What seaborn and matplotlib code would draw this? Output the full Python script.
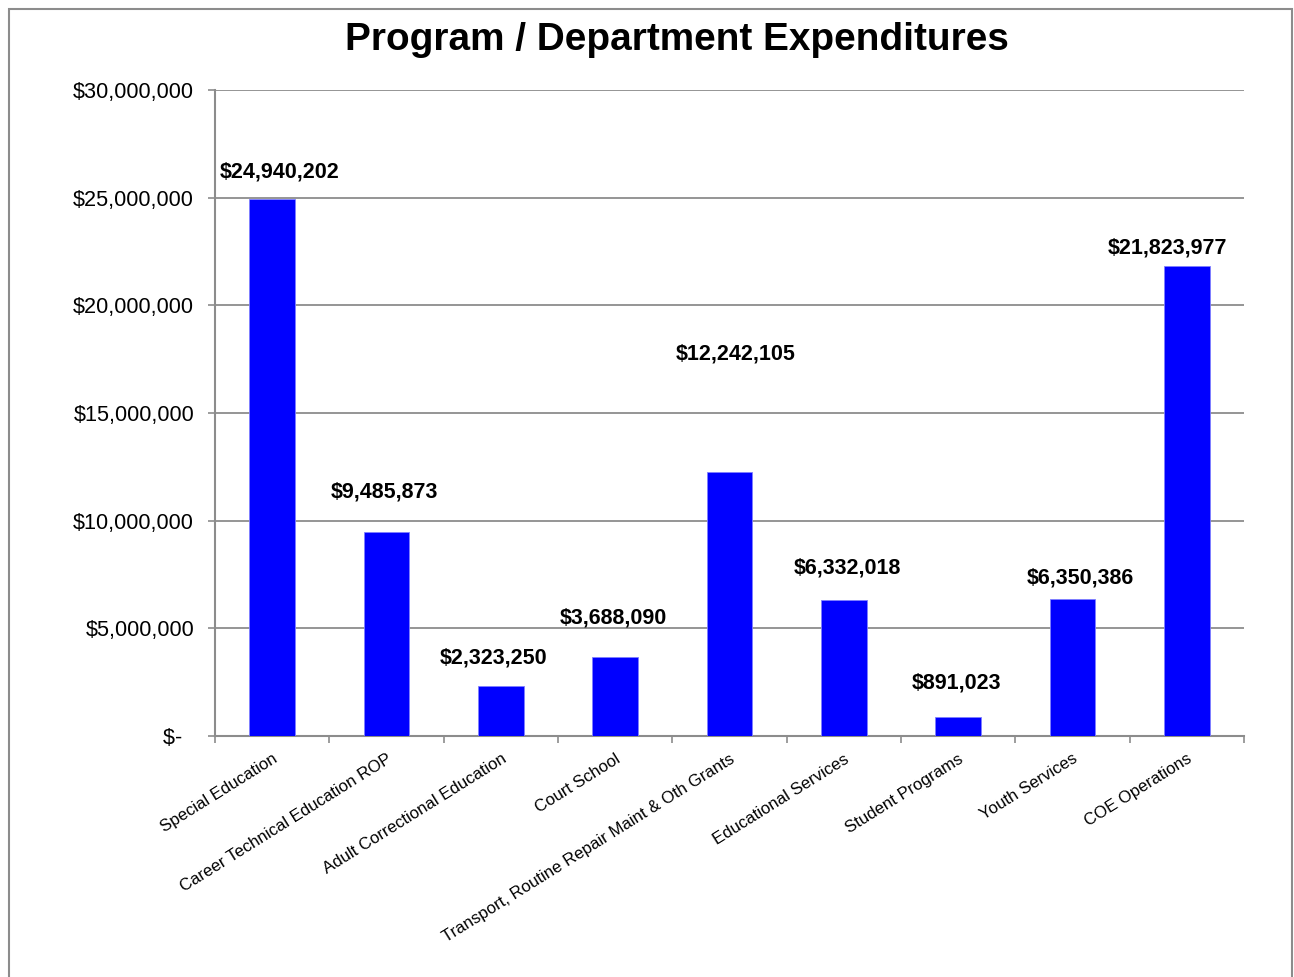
import matplotlib
matplotlib.use("Agg")
import matplotlib.pyplot as plt
from matplotlib.patches import Rectangle
from matplotlib.ticker import FuncFormatter, FixedLocator
import seaborn as sns
import pandas as pd

categories = [
    "Special Education",
    "Career Technical Education ROP",
    "Adult Correctional Education",
    "Court School",
    "Transport, Routine Repair Maint & Oth Grants",
    "Educational Services",
    "Student Programs",
    "Youth Services",
    "COE Operations",
]
values = [24940202, 9485873, 2323250, 3688090, 12242105, 6332018, 891023, 6350386, 21823977]
title = "Program / Department Expenditures"
yticks = [0, 5000000, 10000000, 15000000, 20000000, 25000000, 30000000]

# label placement offsets (pixels) relative to bar top, mimicking the original layout
label_dy = [27, 40, 28, 39, 118, 32, 34, 21, 18]
label_dx = [7, -2, -7, -2, 6, 4, -2, 8, -19]

df = pd.DataFrame({"category": categories, "value": values})

sns.set_theme(style="white")
plt.rcParams["font.family"] = ["Liberation Sans", "DejaVu Sans"]

fig = plt.figure(figsize=(12.94, 9.77), dpi=100)
ax = fig.add_axes([215 / 1294, 1 - 736 / 977, (1244 - 215) / 1294, (736 - 90) / 977])

sns.barplot(data=df, x="category", y="value", color="#0000FF", saturation=1,
            width=0.40, ax=ax, edgecolor="#8080ff", linewidth=0.6, zorder=3)

ax.set_ylim(0, 30000000)
ax.set_xlim(-0.5, len(categories) - 0.5)
ax.yaxis.set_major_locator(FixedLocator(yticks))


def fmt(v, pos):
    if v == 0:
        return "$-  "
    return "${:,.0f}".format(v)


ax.yaxis.set_major_formatter(FuncFormatter(fmt))
ax.grid(axis="y", color="#8c8c8c", linewidth=1.3, zorder=0)
ax.set_axisbelow(True)
for s in ["top", "right"]:
    ax.spines[s].set_visible(False)
for s in ["left", "bottom"]:
    ax.spines[s].set_color("#8c8c8c")
    ax.spines[s].set_linewidth(1.5)

ax.tick_params(axis="y", which="major", left=True, length=5, width=1.2, color="#8c8c8c",
               pad=10, labelsize=15.6, labelcolor="black")
ax.set_xticks(range(len(categories)))
ax.set_xticklabels(categories, rotation=32, ha="right", rotation_mode="anchor",
                   fontsize=12.1, color="black")
ax.tick_params(axis="x", which="major", length=0, pad=11)
ax.set_xticks([i - 0.5 for i in range(len(categories) + 1)], minor=True)
ax.tick_params(axis="x", which="minor", bottom=True, length=5, width=1.2, color="#8c8c8c")
ax.set_xlabel("")
ax.set_ylabel("")

for i, v in enumerate(values):
    ax.annotate("${:,.0f}".format(v), xy=(i, v), xytext=(label_dx[i], label_dy[i]),
                textcoords="offset pixels", ha="center", va="center",
                fontsize=15.5, fontweight="bold", color="black")

fig.text(677 / 1294, 1 - 40 / 977, title, ha="center", va="center",
         fontsize=27.9, fontweight="bold", color="black")

fig.patches.append(Rectangle((9 / 1294, -0.05), (1292 - 9) / 1294, 1.05 - 9 / 977,
                             transform=fig.transFigure, fill=False,
                             edgecolor="#8c8c8c", linewidth=1.5))

fig.savefig("out.png", dpi=100)
